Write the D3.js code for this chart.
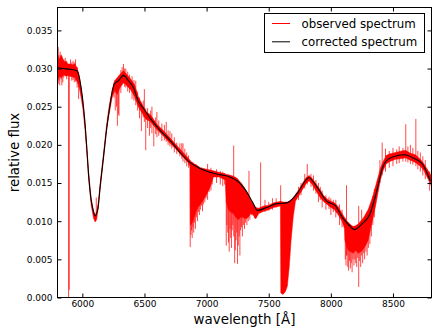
<!DOCTYPE html>
<html><head><meta charset="utf-8">
<script src="https://cdn.jsdelivr.net/npm/d3@7"></script>
<style>
body{margin:0;background:#fff}
svg{display:block}
text{font-family:"DejaVu Sans",sans-serif;fill:#000}
</style>
</head><body>
<svg id="chart" width="442" height="332"></svg>
<script>
// ---- data ----
const xTicks = [6000, 6500, 7000, 7500, 8000, 8500];
const yTicks = [0, 0.005, 0.010, 0.015, 0.020, 0.025, 0.030, 0.035];
const seriesNames = ["observed spectrum", "corrected spectrum"];

// corrected (smooth) spectrum
const contWave = [5803,5846,5902,5956,5982,6009,6023,6036,6049,6071,6089,6103,6125,6143,6170,6197,6216,6237,6258,6290,6331,6371,6411,6451,6491,6545,6626,6706,6786,6866,6947,7027,7106,7187,7253,7308,7373,7409,7483,7564,7644,7727,7823,7888,7968,8032,8097,8145,8190,8255,8311,8367,8416,8470,8591,8672,8736,8800];
const contFlux = [0.0301,0.0300,0.0299,0.0297,0.0283,0.0250,0.0225,0.0195,0.0163,0.0128,0.0113,0.0107,0.0116,0.0145,0.0184,0.0223,0.0245,0.0267,0.0280,0.0284,0.0291,0.0284,0.0275,0.0257,0.0248,0.0235,0.0219,0.0206,0.0190,0.0177,0.0169,0.0164,0.0161,0.0158,0.0152,0.0142,0.0124,0.0114,0.0118,0.0123,0.0124,0.0136,0.0157,0.0145,0.0126,0.0121,0.0104,0.0095,0.0089,0.0097,0.0108,0.0138,0.0170,0.0182,0.0187,0.0182,0.0175,0.0153];

// observed spectrum: envelope of the dense red trace [wavelength, low, high]
const obsBand = [
[5800,0.0285,0.0318],[5815,0.0290,0.0312],[5830,0.0288,0.0318],[5850,0.0292,0.0310],[5870,0.0290,0.0309],
[5885,0.0291,0.0306],[5900,0.0290,0.0306],[5920,0.0289,0.0305],[5940,0.0288,0.0306],[5960,0.0282,0.0300],
[5975,0.0275,0.0290],[5990,0.0262,0.0274],[6005,0.0246,0.0256],[6020,0.0222,0.0232],[6035,0.0192,0.0200],
[6050,0.0158,0.0166],[6070,0.0122,0.0130],[6090,0.0104,0.0113],[6103,0.0099,0.0108],[6115,0.0102,0.0112],
[6130,0.0120,0.0127],[6145,0.0145,0.0152],[6170,0.0181,0.0188],[6195,0.0219,0.0226],[6215,0.0240,0.0250],
[6240,0.0262,0.0272],[6260,0.0271,0.0284],[6280,0.0266,0.0288],[6300,0.0274,0.0292],[6330,0.0282,0.0297],
[6360,0.0277,0.0292],[6390,0.0272,0.0286],[6420,0.0263,0.0279],[6450,0.0250,0.0263],[6480,0.0242,0.0254],
[6510,0.0234,0.0244],[6550,0.0230,0.0239],[6600,0.0220,0.0227],[6650,0.0212,0.0219],[6700,0.0203,0.0210],
[6750,0.0195,0.0201],[6800,0.0186,0.0192],[6850,0.0177,0.0183],[6866,0.0172,0.0180],[6870,0.0095,0.0178],
[6885,0.0098,0.0177],[6900,0.0105,0.0175],[6915,0.0112,0.0174],[6930,0.0118,0.0172],[6950,0.0122,0.0170],
[6975,0.0128,0.0169],[7000,0.0135,0.0168],[7030,0.0145,0.0167],[7055,0.0158,0.0166],[7100,0.0158,0.0164],
[7150,0.0154,0.0162],[7158,0.0125,0.0161],[7175,0.0115,0.0161],[7195,0.0112,0.0160],[7215,0.0110,0.0159],
[7235,0.0105,0.0157],[7255,0.0102,0.0154],[7275,0.0105,0.0150],[7295,0.0105,0.0146],[7315,0.0103,0.0140],
[7335,0.0105,0.0134],[7355,0.0110,0.0127],[7375,0.0108,0.0122],[7395,0.0103,0.0118],[7420,0.0110,0.0117],
[7460,0.0113,0.0120],[7500,0.0115,0.0121],[7540,0.0118,0.0124],[7594,0.0120,0.0126],[7597,0.0006,0.0126],
[7615,0.0004,0.0125],[7635,0.0008,0.0125],[7650,0.0015,0.0125],[7665,0.0040,0.0126],[7680,0.0075,0.0128],
[7697,0.0105,0.0130],[7715,0.0126,0.0135],[7740,0.0133,0.0141],[7770,0.0141,0.0149],[7800,0.0149,0.0157],
[7825,0.0153,0.0160],[7850,0.0148,0.0156],[7880,0.0140,0.0149],[7910,0.0132,0.0142],[7940,0.0126,0.0134],
[7970,0.0122,0.0129],[8000,0.0118,0.0126],[8030,0.0115,0.0124],[8060,0.0108,0.0119],[8090,0.0100,0.0110],
[8110,0.0090,0.0105],[8113,0.0075,0.0104],[8125,0.0068,0.0101],[8140,0.0062,0.0098],[8160,0.0060,0.0095],
[8180,0.0058,0.0093],[8200,0.0062,0.0094],[8220,0.0058,0.0096],[8240,0.0060,0.0100],[8260,0.0063,0.0104],
[8280,0.0068,0.0109],[8300,0.0075,0.0115],[8320,0.0090,0.0124],[8340,0.0105,0.0134],[8360,0.0120,0.0146],
[8380,0.0138,0.0158],[8400,0.0155,0.0170],[8420,0.0166,0.0178],[8445,0.0175,0.0186],[8470,0.0178,0.0188],
[8520,0.0181,0.0190],[8570,0.0182,0.0192],[8600,0.0183,0.0193],[8640,0.0180,0.0189],[8680,0.0177,0.0187],
[8720,0.0172,0.0181],[8750,0.0166,0.0175],[8780,0.0156,0.0167],[8810,0.0146,0.0159]
];

// observed spectrum: sharp features (Na D, telluric lines, noise spikes) [wavelength, low, high]
const obsSpikes = [
[5806,0.0280,0.0328],[5812,0.0284,0.0318],[5818,0.0278,0.0305],[5822,0.0290,0.0322],[5828,0.0286,0.0312],
[5835,0.0278,0.0316],[5843,0.0282,0.0300],[5850,0.0288,0.0312],[5862,0.0290,0.0314],[5874,0.0286,0.0310],
[5889,0.0000,0.0295],[5895,0.0010,0.0295],[5905,0.0290,0.0312],[5915,0.0284,0.0308],[5925,0.0285,0.0310],
[5935,0.0282,0.0308],[5945,0.0283,0.0312],[5958,0.0275,0.0302],[5970,0.0260,0.0295],[6112,0.0105,0.0131],
[6255,0.0262,0.0282],[6265,0.0245,0.0285],[6275,0.0250,0.0286],[6282,0.0225,0.0285],[6290,0.0240,0.0288],
[6295,0.0238,0.0290],[6310,0.0268,0.0298],[6320,0.0278,0.0302],[6331,0.0280,0.0306],[6340,0.0276,0.0300],
[6350,0.0275,0.0300],[6365,0.0270,0.0296],[6380,0.0268,0.0292],[6400,0.0260,0.0290],[6415,0.0258,0.0285],
[6430,0.0252,0.0284],[6445,0.0245,0.0270],[6460,0.0235,0.0262],[6475,0.0218,0.0255],[6490,0.0236,0.0258],
[6499,0.0230,0.0273],[6510,0.0193,0.0248],[6525,0.0222,0.0248],[6540,0.0212,0.0238],[6550,0.0222,0.0245],
[6560,0.0215,0.0250],[6575,0.0198,0.0232],[6590,0.0214,0.0236],[6600,0.0210,0.0243],[6615,0.0212,0.0232],
[6640,0.0205,0.0228],[6660,0.0206,0.0226],[6675,0.0204,0.0230],[6690,0.0200,0.0219],[6705,0.0198,0.0218],
[6720,0.0195,0.0215],[6740,0.0190,0.0210],[6760,0.0188,0.0203],[6785,0.0185,0.0202],[6800,0.0182,0.0202],
[6810,0.0178,0.0202],[6825,0.0176,0.0195],[6840,0.0172,0.0190],[6855,0.0170,0.0186],
[6868,0.0066,0.0180],[6874,0.0082,0.0178],[6879,0.0088,0.0178],[6884,0.0078,0.0177],[6890,0.0092,0.0177],
[6896,0.0085,0.0176],[6903,0.0098,0.0175],[6910,0.0090,0.0175],[6918,0.0105,0.0174],[6926,0.0100,0.0173],
[6934,0.0112,0.0172],[6942,0.0108,0.0171],[6950,0.0115,0.0170],[6958,0.0120,0.0170],[6967,0.0113,0.0169],
[6976,0.0122,0.0169],[6986,0.0125,0.0168],[6996,0.0130,0.0168],[7008,0.0128,0.0175],[7020,0.0138,0.0167],
[7035,0.0140,0.0170],[7045,0.0148,0.0166],[7080,0.0150,0.0168],[7110,0.0148,0.0166],[7130,0.0146,0.0165],
[7145,0.0148,0.0163],
[7158,0.0068,0.0161],[7163,0.0095,0.0161],[7170,0.0085,0.0161],[7176,0.0072,0.0160],[7182,0.0060,0.0160],
[7188,0.0090,0.0160],[7194,0.0078,0.0160],[7200,0.0065,0.0159],[7206,0.0088,0.0159],[7212,0.0095,0.0159],
[7218,0.0080,0.0199],[7226,0.0045,0.0158],[7231,0.0062,0.0158],[7237,0.0075,0.0157],[7243,0.0085,0.0157],
[7249,0.0044,0.0156],[7255,0.0068,0.0155],[7262,0.0080,0.0153],[7268,0.0055,0.0152],[7274,0.0088,0.0151],
[7281,0.0092,0.0150],[7288,0.0080,0.0148],[7296,0.0095,0.0146],[7305,0.0090,0.0144],[7314,0.0098,0.0141],
[7324,0.0095,0.0138],[7335,0.0100,0.0135],[7341,0.0118,0.0166],[7348,0.0102,0.0131],[7365,0.0108,0.0126],
[7385,0.0104,0.0121],[7435,0.0112,0.0177],[7470,0.0112,0.0128],[7500,0.0114,0.0125],[7530,0.0115,0.0130],
[7560,0.0118,0.0130],[7596,0.0120,0.0147],
[7740,0.0128,0.0145],[7760,0.0134,0.0150],[7790,0.0143,0.0162],[7810,0.0148,0.0175],[7840,0.0145,0.0162],
[7860,0.0140,0.0160],[7880,0.0136,0.0154],[7900,0.0125,0.0150],[7915,0.0128,0.0145],[7930,0.0118,0.0140],
[7960,0.0115,0.0134],[7985,0.0116,0.0132],[8000,0.0108,0.0130],[8020,0.0112,0.0128],[8040,0.0105,0.0128],
[8070,0.0095,0.0122],[8090,0.0092,0.0115],
[8116,0.0050,0.0104],[8122,0.0042,0.0102],[8126,0.0055,0.0147],[8130,0.0055,0.0100],[8136,0.0040,0.0099],
[8143,0.0035,0.0098],[8150,0.0048,0.0097],[8157,0.0038,0.0096],[8164,0.0045,0.0095],[8171,0.0033,0.0094],
[8178,0.0050,0.0093],[8186,0.0042,0.0093],[8193,0.0050,0.0093],[8200,0.0045,0.0094],[8208,0.0040,0.0095],
[8216,0.0052,0.0096],[8224,0.0014,0.0120],[8232,0.0048,0.0098],[8240,0.0040,0.0100],[8248,0.0055,0.0115],
[8256,0.0045,0.0103],[8264,0.0058,0.0104],[8272,0.0050,0.0106],[8282,0.0060,0.0110],[8292,0.0055,0.0113],
[8302,0.0065,0.0116],[8314,0.0070,0.0120],[8326,0.0080,0.0126],[8338,0.0095,0.0133],[8350,0.0105,0.0142],
[8395,0.0150,0.0180],[8413,0.0160,0.0203],[8440,0.0165,0.0195],[8470,0.0170,0.0192],[8500,0.0172,0.0196],
[8530,0.0175,0.0194],[8550,0.0176,0.0198],[8580,0.0178,0.0196],[8603,0.0178,0.0227],[8620,0.0177,0.0198],
[8640,0.0175,0.0200],[8660,0.0174,0.0196],[8684,0.0172,0.0234],[8700,0.0168,0.0192],[8720,0.0165,0.0190],
[8740,0.0160,0.0185],[8760,0.0155,0.0180],[8795,0.0140,0.0165]
];

// ---- layout ----
const L = 57.5, R = 431.5, T = 7.5, B = 297.5;
const svg = d3.select("#chart");

const x = d3.scaleLinear().domain([5800, 8810]).range([L, R]);
const y = d3.scaleLinear().domain([0, 0.038]).range([B, T]);

svg.append("defs").append("clipPath").attr("id", "clip")
  .append("rect").attr("x", L).attr("y", T).attr("width", R - L).attr("height", B - T);

const plot = svg.append("g").attr("clip-path", "url(#clip)");

plot.append("path").datum(obsBand)
  .attr("d", d3.area().x(d => x(d[0])).y0(d => y(d[1])).y1(d => y(d[2])))
  .attr("fill", "#ff0000").attr("stroke", "#ff0000").attr("stroke-width", 0.5);

plot.append("g").selectAll("line").data(obsSpikes).join("line")
  .attr("x1", d => x(d[0])).attr("x2", d => x(d[0]))
  .attr("y1", d => y(d[1])).attr("y2", d => y(d[2]))
  .attr("stroke", "#ff0000").attr("stroke-width", 0.9).attr("stroke-opacity", 0.8);

const cont = contWave.map((w, i) => ({w, f: contFlux[i]}));
plot.append("path").datum(cont)
  .attr("d", d3.line().x(d => x(d.w)).y(d => y(d.f)).curve(d3.curveMonotoneX))
  .attr("fill", "none").attr("stroke", "#000").attr("stroke-width", 1.1);

// ---- axes (matplotlib style: inward ticks on all sides) ----
const gx = svg.append("g").attr("transform", `translate(0,${B})`)
  .call(d3.axisBottom(x).tickValues(xTicks).tickFormat(d3.format("d")).tickSizeInner(-4).tickSizeOuter(0).tickPadding(3));
const gy = svg.append("g").attr("transform", `translate(${L},0)`)
  .call(d3.axisLeft(y).tickValues(yTicks).tickFormat(d3.format(".3f")).tickSizeInner(-4).tickSizeOuter(0).tickPadding(5));
const gt = svg.append("g").attr("transform", `translate(0,${T})`)
  .call(d3.axisTop(x).tickValues(xTicks).tickSizeInner(-4).tickSizeOuter(0).tickFormat(""));
const gr = svg.append("g").attr("transform", `translate(${R},0)`)
  .call(d3.axisRight(y).tickValues(yTicks).tickSizeInner(-4).tickSizeOuter(0).tickFormat(""));
[gx, gy, gt, gr].forEach(g => {
  g.select(".domain").remove();
  g.selectAll("line").attr("stroke", "#000").attr("stroke-width", 1);
  g.selectAll("text").attr("font-family", "DejaVu Sans").attr("font-size", 9).attr("fill", "#000");
});

svg.append("rect").attr("x", L).attr("y", T).attr("width", R - L).attr("height", B - T)
  .attr("fill", "none").attr("stroke", "#000").attr("stroke-width", 1);

svg.append("text").attr("x", (L + R) / 2).attr("y", 324).attr("text-anchor", "middle")
  .attr("font-size", 13.4).text("wavelength [Å]");
svg.append("text").attr("transform", `translate(19,${(T + B) / 2}) rotate(-90)`)
  .attr("text-anchor", "middle").attr("font-size", 13.4).text("relative flux");

// ---- legend ----
const leg = svg.append("g");
leg.append("rect").attr("x", 264.5).attr("y", 13.5).attr("width", 160).attr("height", 39)
  .attr("fill", "#fff").attr("stroke", "#000").attr("stroke-width", 1);
const legColors = ["#ff0000", "#000000"];
seriesNames.forEach((name, i) => {
  const yy = 23.5 + i * 18.3;
  leg.append("line").attr("x1", 272).attr("x2", 290).attr("y1", yy).attr("y2", yy)
    .attr("stroke", legColors[i]).attr("stroke-width", 1);
  leg.append("text").attr("x", 301.5).attr("y", yy + 4.2).attr("font-size", 11.8).text(name);
});
</script>
</body></html>
